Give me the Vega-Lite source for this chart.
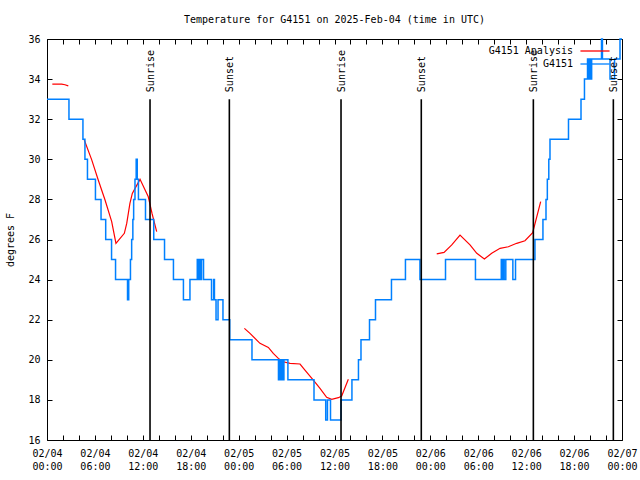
{
  "$schema": "https://vega.github.io/schema/vega-lite/v6.json",
  "width": 575,
  "height": 401,
  "autosize": "none",
  "padding": {"left": 47, "top": 39, "right": 18, "bottom": 40},
  "background": "white",
  "title": {"text": "Temperature for G4151 on 2025-Feb-04 (time in UTC)", "font": "DejaVu Sans Mono", "fontSize": 10, "fontWeight": "normal", "color": "black", "offset": 9, "anchor": "middle"},
  "config": {
    "view": {"stroke": "black", "strokeWidth": 1},
    "font": "DejaVu Sans Mono",
    "axis": {"labelFont": "DejaVu Sans Mono", "labelFontSize": 10, "labelColor": "black", "tickColor": "black", "tickWidth": 1, "domain": false, "grid": false, "tickSize": -5, "titleFont": "DejaVu Sans Mono", "titleFontSize": 10, "titleFontWeight": "normal", "titleColor": "black"},
    "legend": {"labelFont": "DejaVu Sans Mono", "labelFontSize": 10, "labelColor": "black"}
  },
  "datasets": {
    "obs": [
      {"time": "2025-02-04T00:40:00Z", "temp": 33.75, "series": "G4151 Analysis", "seg": "a1"},
      {"time": "2025-02-04T01:50:00Z", "temp": 33.75, "series": "G4151 Analysis", "seg": "a1"},
      {"time": "2025-02-04T02:15:00Z", "temp": 33.72, "series": "G4151 Analysis", "seg": "a1"},
      {"time": "2025-02-04T02:40:00Z", "temp": 33.66, "series": "G4151 Analysis", "seg": "a1"},
      {"time": "2025-02-04T04:40:00Z", "temp": 30.96, "series": "G4151 Analysis", "seg": "a2"},
      {"time": "2025-02-04T05:36:00Z", "temp": 29.97, "series": "G4151 Analysis", "seg": "a2"},
      {"time": "2025-02-04T06:25:00Z", "temp": 28.97, "series": "G4151 Analysis", "seg": "a2"},
      {"time": "2025-02-04T07:16:00Z", "temp": 27.97, "series": "G4151 Analysis", "seg": "a2"},
      {"time": "2025-02-04T08:06:00Z", "temp": 26.89, "series": "G4151 Analysis", "seg": "a2"},
      {"time": "2025-02-04T08:38:00Z", "temp": 25.81, "series": "G4151 Analysis", "seg": "a2"},
      {"time": "2025-02-04T09:41:00Z", "temp": 26.31, "series": "G4151 Analysis", "seg": "a2"},
      {"time": "2025-02-04T09:59:00Z", "temp": 26.8, "series": "G4151 Analysis", "seg": "a2"},
      {"time": "2025-02-04T10:23:00Z", "temp": 27.8, "series": "G4151 Analysis", "seg": "a2"},
      {"time": "2025-02-04T10:41:00Z", "temp": 28.3, "series": "G4151 Analysis", "seg": "a2"},
      {"time": "2025-02-04T11:14:00Z", "temp": 28.7, "series": "G4151 Analysis", "seg": "a2"},
      {"time": "2025-02-04T11:39:00Z", "temp": 29.0, "series": "G4151 Analysis", "seg": "a2"},
      {"time": "2025-02-04T12:41:00Z", "temp": 28.13, "series": "G4151 Analysis", "seg": "a2"},
      {"time": "2025-02-04T13:09:00Z", "temp": 27.3, "series": "G4151 Analysis", "seg": "a2"},
      {"time": "2025-02-04T13:44:00Z", "temp": 26.39, "series": "G4151 Analysis", "seg": "a2"},
      {"time": "2025-02-05T00:43:00Z", "temp": 21.57, "series": "G4151 Analysis", "seg": "a3"},
      {"time": "2025-02-05T01:25:00Z", "temp": 21.32, "series": "G4151 Analysis", "seg": "a3"},
      {"time": "2025-02-05T02:40:00Z", "temp": 20.82, "series": "G4151 Analysis", "seg": "a3"},
      {"time": "2025-02-05T03:43:00Z", "temp": 20.62, "series": "G4151 Analysis", "seg": "a3"},
      {"time": "2025-02-05T04:20:00Z", "temp": 20.32, "series": "G4151 Analysis", "seg": "a3"},
      {"time": "2025-02-05T04:58:00Z", "temp": 20.07, "series": "G4151 Analysis", "seg": "a3"},
      {"time": "2025-02-05T05:35:00Z", "temp": 19.9, "series": "G4151 Analysis", "seg": "a3"},
      {"time": "2025-02-05T06:26:00Z", "temp": 19.82, "series": "G4151 Analysis", "seg": "a3"},
      {"time": "2025-02-05T07:41:00Z", "temp": 19.79, "series": "G4151 Analysis", "seg": "a3"},
      {"time": "2025-02-05T08:18:00Z", "temp": 19.49, "series": "G4151 Analysis", "seg": "a3"},
      {"time": "2025-02-05T09:21:00Z", "temp": 18.99, "series": "G4151 Analysis", "seg": "a3"},
      {"time": "2025-02-05T10:11:00Z", "temp": 18.58, "series": "G4151 Analysis", "seg": "a3"},
      {"time": "2025-02-05T11:01:00Z", "temp": 18.13, "series": "G4151 Analysis", "seg": "a3"},
      {"time": "2025-02-05T11:39:00Z", "temp": 18.03, "series": "G4151 Analysis", "seg": "a3"},
      {"time": "2025-02-05T12:29:00Z", "temp": 18.11, "series": "G4151 Analysis", "seg": "a3"},
      {"time": "2025-02-05T12:54:00Z", "temp": 18.19, "series": "G4151 Analysis", "seg": "a3"},
      {"time": "2025-02-05T13:44:00Z", "temp": 19.03, "series": "G4151 Analysis", "seg": "a3"},
      {"time": "2025-02-06T00:48:00Z", "temp": 25.28, "series": "G4151 Analysis", "seg": "a4"},
      {"time": "2025-02-06T01:43:00Z", "temp": 25.36, "series": "G4151 Analysis", "seg": "a4"},
      {"time": "2025-02-06T02:41:00Z", "temp": 25.73, "series": "G4151 Analysis", "seg": "a4"},
      {"time": "2025-02-06T03:43:00Z", "temp": 26.22, "series": "G4151 Analysis", "seg": "a4"},
      {"time": "2025-02-06T04:58:00Z", "temp": 25.73, "series": "G4151 Analysis", "seg": "a4"},
      {"time": "2025-02-06T05:49:00Z", "temp": 25.31, "series": "G4151 Analysis", "seg": "a4"},
      {"time": "2025-02-06T06:46:00Z", "temp": 25.03, "series": "G4151 Analysis", "seg": "a4"},
      {"time": "2025-02-06T07:41:00Z", "temp": 25.31, "series": "G4151 Analysis", "seg": "a4"},
      {"time": "2025-02-06T08:44:00Z", "temp": 25.56, "series": "G4151 Analysis", "seg": "a4"},
      {"time": "2025-02-06T09:46:00Z", "temp": 25.64, "series": "G4151 Analysis", "seg": "a4"},
      {"time": "2025-02-06T10:49:00Z", "temp": 25.81, "series": "G4151 Analysis", "seg": "a4"},
      {"time": "2025-02-06T11:51:00Z", "temp": 25.94, "series": "G4151 Analysis", "seg": "a4"},
      {"time": "2025-02-06T12:49:00Z", "temp": 26.34, "series": "G4151 Analysis", "seg": "a4"},
      {"time": "2025-02-06T13:49:00Z", "temp": 27.89, "series": "G4151 Analysis", "seg": "a4"},
      {"time": "2025-02-04T00:00:00Z", "temp": 33, "series": "G4151", "seg": "b"},
      {"time": "2025-02-04T02:45:00Z", "temp": 32, "series": "G4151", "seg": "b"},
      {"time": "2025-02-04T04:30:00Z", "temp": 31, "series": "G4151", "seg": "b"},
      {"time": "2025-02-04T04:45:00Z", "temp": 30, "series": "G4151", "seg": "b"},
      {"time": "2025-02-04T05:04:00Z", "temp": 29, "series": "G4151", "seg": "b"},
      {"time": "2025-02-04T06:04:00Z", "temp": 28, "series": "G4151", "seg": "b"},
      {"time": "2025-02-04T06:46:00Z", "temp": 27, "series": "G4151", "seg": "b"},
      {"time": "2025-02-04T07:21:00Z", "temp": 26, "series": "G4151", "seg": "b"},
      {"time": "2025-02-04T08:05:00Z", "temp": 25, "series": "G4151", "seg": "b"},
      {"time": "2025-02-04T08:35:00Z", "temp": 24, "series": "G4151", "seg": "b"},
      {"time": "2025-02-04T10:05:00Z", "temp": 23, "series": "G4151", "seg": "b"},
      {"time": "2025-02-04T10:14:00Z", "temp": 24, "series": "G4151", "seg": "b"},
      {"time": "2025-02-04T10:27:00Z", "temp": 25, "series": "G4151", "seg": "b"},
      {"time": "2025-02-04T10:36:00Z", "temp": 26, "series": "G4151", "seg": "b"},
      {"time": "2025-02-04T10:45:00Z", "temp": 27, "series": "G4151", "seg": "b"},
      {"time": "2025-02-04T10:51:00Z", "temp": 28, "series": "G4151", "seg": "b"},
      {"time": "2025-02-04T11:01:00Z", "temp": 29, "series": "G4151", "seg": "b"},
      {"time": "2025-02-04T11:10:00Z", "temp": 30, "series": "G4151", "seg": "b"},
      {"time": "2025-02-04T11:18:00Z", "temp": 29, "series": "G4151", "seg": "b"},
      {"time": "2025-02-04T11:27:00Z", "temp": 28, "series": "G4151", "seg": "b"},
      {"time": "2025-02-04T12:20:00Z", "temp": 27, "series": "G4151", "seg": "b"},
      {"time": "2025-02-04T13:22:00Z", "temp": 26, "series": "G4151", "seg": "b"},
      {"time": "2025-02-04T14:43:00Z", "temp": 25, "series": "G4151", "seg": "b"},
      {"time": "2025-02-04T15:50:00Z", "temp": 24, "series": "G4151", "seg": "b"},
      {"time": "2025-02-04T17:05:00Z", "temp": 23, "series": "G4151", "seg": "b"},
      {"time": "2025-02-04T17:54:00Z", "temp": 24, "series": "G4151", "seg": "b"},
      {"time": "2025-02-04T18:49:00Z", "temp": 25, "series": "G4151", "seg": "b"},
      {"time": "2025-02-04T18:56:00Z", "temp": 24, "series": "G4151", "seg": "b"},
      {"time": "2025-02-04T19:04:00Z", "temp": 25, "series": "G4151", "seg": "b"},
      {"time": "2025-02-04T19:11:00Z", "temp": 24, "series": "G4151", "seg": "b"},
      {"time": "2025-02-04T19:21:00Z", "temp": 25, "series": "G4151", "seg": "b"},
      {"time": "2025-02-04T19:36:00Z", "temp": 24, "series": "G4151", "seg": "b"},
      {"time": "2025-02-04T20:36:00Z", "temp": 23, "series": "G4151", "seg": "b"},
      {"time": "2025-02-04T20:52:00Z", "temp": 24, "series": "G4151", "seg": "b"},
      {"time": "2025-02-04T20:58:00Z", "temp": 23, "series": "G4151", "seg": "b"},
      {"time": "2025-02-04T21:10:00Z", "temp": 22, "series": "G4151", "seg": "b"},
      {"time": "2025-02-04T21:25:00Z", "temp": 23, "series": "G4151", "seg": "b"},
      {"time": "2025-02-04T22:02:00Z", "temp": 22, "series": "G4151", "seg": "b"},
      {"time": "2025-02-04T22:53:00Z", "temp": 21, "series": "G4151", "seg": "b"},
      {"time": "2025-02-05T01:40:00Z", "temp": 20, "series": "G4151", "seg": "b"},
      {"time": "2025-02-05T04:59:00Z", "temp": 19, "series": "G4151", "seg": "b"},
      {"time": "2025-02-05T05:07:00Z", "temp": 20, "series": "G4151", "seg": "b"},
      {"time": "2025-02-05T05:15:00Z", "temp": 19, "series": "G4151", "seg": "b"},
      {"time": "2025-02-05T05:23:00Z", "temp": 20, "series": "G4151", "seg": "b"},
      {"time": "2025-02-05T05:31:00Z", "temp": 19, "series": "G4151", "seg": "b"},
      {"time": "2025-02-05T05:40:00Z", "temp": 20, "series": "G4151", "seg": "b"},
      {"time": "2025-02-05T06:10:00Z", "temp": 19, "series": "G4151", "seg": "b"},
      {"time": "2025-02-05T09:26:00Z", "temp": 18, "series": "G4151", "seg": "b"},
      {"time": "2025-02-05T10:54:00Z", "temp": 17, "series": "G4151", "seg": "b"},
      {"time": "2025-02-05T11:07:00Z", "temp": 18, "series": "G4151", "seg": "b"},
      {"time": "2025-02-05T11:30:00Z", "temp": 17, "series": "G4151", "seg": "b"},
      {"time": "2025-02-05T12:49:00Z", "temp": 18, "series": "G4151", "seg": "b"},
      {"time": "2025-02-05T14:11:00Z", "temp": 19, "series": "G4151", "seg": "b"},
      {"time": "2025-02-05T15:00:00Z", "temp": 20, "series": "G4151", "seg": "b"},
      {"time": "2025-02-05T15:19:00Z", "temp": 21, "series": "G4151", "seg": "b"},
      {"time": "2025-02-05T16:23:00Z", "temp": 22, "series": "G4151", "seg": "b"},
      {"time": "2025-02-05T17:08:00Z", "temp": 23, "series": "G4151", "seg": "b"},
      {"time": "2025-02-05T19:08:00Z", "temp": 24, "series": "G4151", "seg": "b"},
      {"time": "2025-02-05T20:53:00Z", "temp": 25, "series": "G4151", "seg": "b"},
      {"time": "2025-02-05T22:42:00Z", "temp": 24, "series": "G4151", "seg": "b"},
      {"time": "2025-02-06T01:54:00Z", "temp": 25, "series": "G4151", "seg": "b"},
      {"time": "2025-02-06T05:39:00Z", "temp": 24, "series": "G4151", "seg": "b"},
      {"time": "2025-02-06T08:53:00Z", "temp": 25, "series": "G4151", "seg": "b"},
      {"time": "2025-02-06T09:00:00Z", "temp": 24, "series": "G4151", "seg": "b"},
      {"time": "2025-02-06T09:08:00Z", "temp": 25, "series": "G4151", "seg": "b"},
      {"time": "2025-02-06T09:15:00Z", "temp": 24, "series": "G4151", "seg": "b"},
      {"time": "2025-02-06T09:27:00Z", "temp": 25, "series": "G4151", "seg": "b"},
      {"time": "2025-02-06T10:20:00Z", "temp": 24, "series": "G4151", "seg": "b"},
      {"time": "2025-02-06T10:40:00Z", "temp": 25, "series": "G4151", "seg": "b"},
      {"time": "2025-02-06T13:06:00Z", "temp": 26, "series": "G4151", "seg": "b"},
      {"time": "2025-02-06T14:06:00Z", "temp": 27, "series": "G4151", "seg": "b"},
      {"time": "2025-02-06T14:29:00Z", "temp": 28, "series": "G4151", "seg": "b"},
      {"time": "2025-02-06T14:39:00Z", "temp": 29, "series": "G4151", "seg": "b"},
      {"time": "2025-02-06T14:50:00Z", "temp": 30, "series": "G4151", "seg": "b"},
      {"time": "2025-02-06T14:59:00Z", "temp": 31, "series": "G4151", "seg": "b"},
      {"time": "2025-02-06T17:18:00Z", "temp": 32, "series": "G4151", "seg": "b"},
      {"time": "2025-02-06T18:52:00Z", "temp": 33, "series": "G4151", "seg": "b"},
      {"time": "2025-02-06T19:18:00Z", "temp": 34, "series": "G4151", "seg": "b"},
      {"time": "2025-02-06T19:41:00Z", "temp": 35, "series": "G4151", "seg": "b"},
      {"time": "2025-02-06T19:49:00Z", "temp": 34, "series": "G4151", "seg": "b"},
      {"time": "2025-02-06T19:57:00Z", "temp": 35, "series": "G4151", "seg": "b"},
      {"time": "2025-02-06T20:04:00Z", "temp": 34, "series": "G4151", "seg": "b"},
      {"time": "2025-02-06T20:12:00Z", "temp": 35, "series": "G4151", "seg": "b"},
      {"time": "2025-02-06T21:26:00Z", "temp": 36, "series": "G4151", "seg": "b"},
      {"time": "2025-02-06T21:33:00Z", "temp": 35, "series": "G4151", "seg": "b"},
      {"time": "2025-02-06T22:30:00Z", "temp": 34, "series": "G4151", "seg": "b"},
      {"time": "2025-02-06T23:04:00Z", "temp": 35, "series": "G4151", "seg": "b"},
      {"time": "2025-02-06T23:45:00Z", "temp": 36, "series": "G4151", "seg": "b"},
      {"time": "2025-02-07T00:00:00Z", "temp": 36, "series": "G4151", "seg": "b"}
    ],
    "events": [
      {"time": "2025-02-04T12:54:00Z", "event": "Sunrise"},
      {"time": "2025-02-04T22:50:00Z", "event": "Sunset"},
      {"time": "2025-02-05T12:49:00Z", "event": "Sunrise"},
      {"time": "2025-02-05T22:52:00Z", "event": "Sunset"},
      {"time": "2025-02-06T12:54:00Z", "event": "Sunrise"},
      {"time": "2025-02-06T22:55:00Z", "event": "Sunset"}
    ]
  },
  "layer": [
    {
      "data": {"name": "obs"},
      "transform": [{"filter": "datum.series === 'G4151 Analysis'"}],
      "mark": {"type": "line", "interpolate": "linear", "strokeWidth": 1.2},
      "encoding": {
        "x": {"field": "time", "type": "temporal",
          "scale": {"type": "utc", "domain": [1738627200000, 1738886400000]},
          "axis": {"orient": "bottom", "title": null,
            "values": [1738627200000, 1738634400000, 1738641600000, 1738648800000, 1738656000000, 1738663200000, 1738670400000, 1738677600000, 1738684800000, 1738692000000, 1738699200000, 1738706400000, 1738713600000, 1738720800000, 1738728000000, 1738735200000, 1738742400000, 1738749600000, 1738756800000, 1738764000000, 1738771200000, 1738778400000, 1738785600000, 1738792800000, 1738800000000, 1738807200000, 1738814400000, 1738821600000, 1738828800000, 1738836000000, 1738843200000, 1738850400000, 1738857600000, 1738864800000, 1738872000000, 1738879200000, 1738886400000],
            "labelExpr": "utchours(datum.value) % 6 === 0 ? [utcFormat(datum.value, '%m/%d'), utcFormat(datum.value, '%H:%M')] : ''",
            "labelOverlap": false, "labelFlush": false, "labelBaseline": "top", "labelLineHeight": 13, "labelPadding": 13, "labelAlign": "center"}},
        "y": {"field": "temp", "type": "quantitative",
          "scale": {"domain": [16, 36], "nice": false, "zero": false},
          "axis": {"orient": "left", "values": [16, 18, 20, 22, 24, 26, 28, 30, 32, 34, 36], "title": "degrees F", "labelPadding": 12, "titleAngle": 270, "titleX": -37, "titleY": 200.5, "titleAlign": "center", "titleBaseline": "middle"}},
        "color": {"field": "series", "type": "nominal",
          "scale": {"domain": ["G4151 Analysis", "G4151"], "range": ["#ff0000", "#0080ff"]},
          "legend": {"title": null, "orient": "none", "legendX": 543, "legendY": 7, "padding": 0, "symbolType": "M-4,0H4", "symbolSize": 53, "symbolStrokeWidth": 1.3, "symbolFillColor": "transparent", "labelAlign": "right", "labelOffset": -27, "rowPadding": 3}},
        "detail": {"field": "seg", "type": "nominal"}
      }
    },
    {
      "data": {"name": "obs"},
      "transform": [{"filter": "datum.series === 'G4151'"}],
      "mark": {"type": "line", "interpolate": "step-after", "strokeWidth": 1.5},
      "encoding": {
        "x": {"field": "time", "type": "temporal",
          "axis": {"orient": "top", "title": null, "labels": false,
            "values": [1738627200000, 1738634400000, 1738641600000, 1738648800000, 1738656000000, 1738663200000, 1738670400000, 1738677600000, 1738684800000, 1738692000000, 1738699200000, 1738706400000, 1738713600000, 1738720800000, 1738728000000, 1738735200000, 1738742400000, 1738749600000, 1738756800000, 1738764000000, 1738771200000, 1738778400000, 1738785600000, 1738792800000, 1738800000000, 1738807200000, 1738814400000, 1738821600000, 1738828800000, 1738836000000, 1738843200000, 1738850400000, 1738857600000, 1738864800000, 1738872000000, 1738879200000, 1738886400000]}},
        "y": {"field": "temp", "type": "quantitative",
          "axis": {"orient": "right", "title": null, "labels": false, "values": [16, 18, 20, 22, 24, 26, 28, 30, 32, 34, 36]}},
        "color": {"field": "series", "type": "nominal"}
      }
    },
    {
      "data": {"name": "events"},
      "mark": {"type": "rule", "color": "black", "strokeWidth": 1.6},
      "encoding": {
        "x": {"field": "time", "type": "temporal", "axis": null},
        "y": {"datum": 33, "type": "quantitative", "axis": null},
        "y2": {"datum": 16}
      }
    },
    {
      "data": {"name": "events"},
      "mark": {"type": "text", "angle": 270, "align": "left", "baseline": "middle", "dx": 7, "dy": 1, "font": "DejaVu Sans Mono", "fontSize": 10, "color": "black"},
      "encoding": {
        "x": {"field": "time", "type": "temporal", "axis": null},
        "y": {"datum": 33, "type": "quantitative", "axis": null},
        "text": {"field": "event"}
      }
    }
  ],
  "resolve": {"axis": {"x": "independent", "y": "independent"}}
}
